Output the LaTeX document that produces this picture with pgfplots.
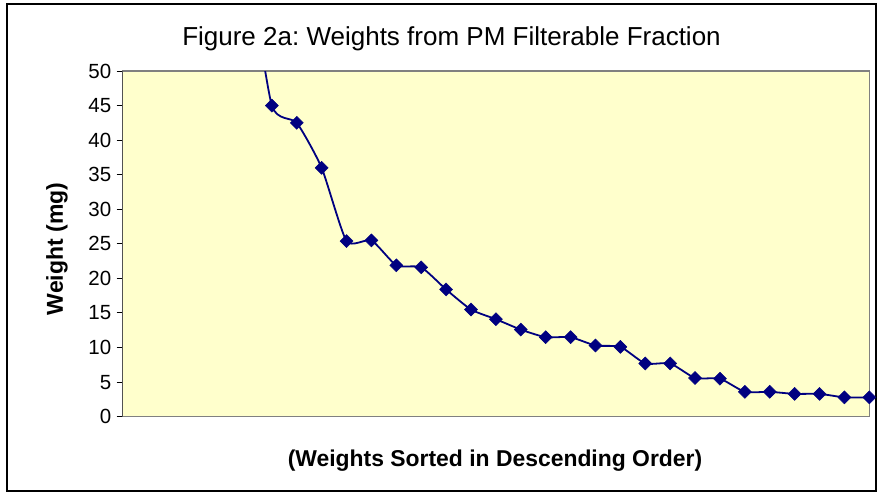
\documentclass[border=0pt]{standalone}
\usepackage{fontspec}
\setmainfont{Liberation Sans}
\usepackage{pgfplots}
\pgfplotsset{compat=1.18}
\definecolor{navyc}{RGB}{0,0,128}
\definecolor{plotbg}{RGB}{255,255,204}
\definecolor{bordergray}{RGB}{128,128,128}
\frenchspacing
\begin{document}
\begin{tikzpicture}
\path[use as bounding box, fill=white] (0pt,0pt) rectangle (880pt,496pt);
\draw[black, line width=1.6pt] (7pt,492pt) rectangle (876pt,5pt);
\begin{axis}[
  at={(122.5pt,79.3pt)}, anchor=south west,
  scale only axis, width=746.8pt, height=345.7pt,
  xmin=0, xmax=30, ymin=0, ymax=50,
  xtick=\empty,
  ytick={0,5,...,50},
  ytick pos=left,
  tick align=outside,
  major tick length=6pt,
  tick style={black, line width=1pt},
  axis line style={draw=bordergray, line width=1.4pt},
  axis background/.style={fill=plotbg},
  yticklabel style={font=\fontsize{20.5}{24}\selectfont, inner sep=1pt, xshift=-4pt},
  /pgf/number format/assume math mode=true,
  clip=true,
]
\addplot[color=navyc, line width=1.8pt, smooth, tension=0.35, mark=square*, mark size=4.6pt,
  mark options={rotate=45, fill=navyc, draw=navyc, line width=0.5pt}] coordinates {
(0,150) (1,125) (2,105) (3,90) (4,78) (5,66)
(6,45.0) (7,42.5) (8,36.0) (9,25.4) (10,25.5) (11,21.9) (12,21.6)
(13,18.4) (14,15.5) (15,14.1) (16,12.6) (17,11.5) (18,11.5)
(19,10.3) (20,10.1) (21,7.7) (22,7.7) (23,5.6) (24,5.5)
(25,3.6) (26,3.6) (27,3.3) (28,3.3) (29,2.8) (30,2.8)
};
\draw[black, line width=1.4pt] (rel axis cs:0,0) -- (rel axis cs:0,1);
\end{axis}
\node[anchor=base, font=\fontsize{26}{30}\selectfont, inner sep=0pt] at (451.5pt,450.3pt) {Figure 2a: Weights from PM Filterable Fraction};
\node[anchor=base, font=\bfseries\fontsize{22.9}{27}\selectfont, inner sep=0pt] at (495pt,29.3pt) {(Weights Sorted in Descending Order)};
\node[rotate=90, font=\bfseries\fontsize{23}{27}\selectfont, inner sep=0pt] at (57pt,247pt) {Weight (mg)};
\end{tikzpicture}
\end{document}
